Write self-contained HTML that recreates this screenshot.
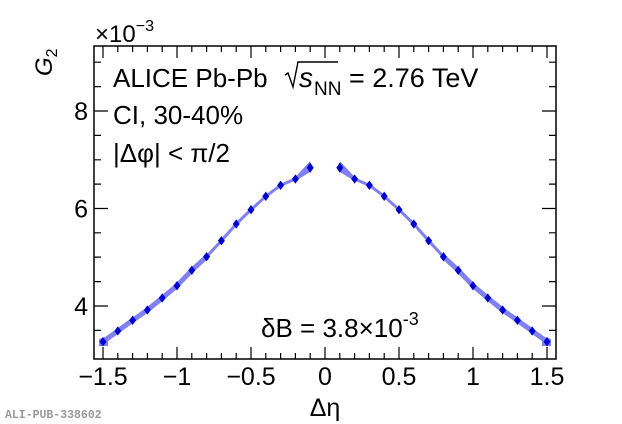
<!DOCTYPE html>
<html><head><meta charset="utf-8"><style>
html,body{margin:0;padding:0;background:#fff;}
svg{display:block;font-family:"Liberation Sans",sans-serif;}
</style></head><body>
<svg width="622" height="424" viewBox="0 0 622 424" xmlns="http://www.w3.org/2000/svg">
<rect width="622" height="424" fill="#fff"/>
<g fill="none" stroke="#8080f0" stroke-width="5" stroke-linejoin="round" stroke-linecap="butt">
<polyline points="103,341.7 117.8,331 132.6,320.3 147.4,310 162.2,298 177,285.7 191.8,270.3 206.6,256.7"/>
<polyline points="547,341.7 532.2,331 517.4,320.3 502.6,310 487.8,298 473,285.7 458.2,270.3 443.4,256.7"/>
</g>
<g fill="none" stroke="#8080f0" stroke-width="3" stroke-linejoin="round">
<polyline points="206.6,256.7 221.4,240.7 236.2,224 251,209.7 265.8,196.3 280.6,185.3 295.4,179 310.2,167.7"/>
<polyline points="443.4,256.7 428.6,240.7 413.8,224 399,209.7 384.2,196.3 369.4,185.3 354.6,179 339.8,167.7"/>
</g>
<polygon points="295.4,177 310.2,161 310.2,172 295.4,181" fill="#8080f0"/>
<polygon points="354.6,177 339.8,161 339.8,172 354.6,181" fill="#8080f0"/>
<polygon points="99,339 108,336 108,346 99,346" fill="#8080f0"/>
<polygon points="551,339 542,336 542,346 551,346" fill="#8080f0"/>
<g fill="#0000cc" stroke="#0000cc" stroke-width="0.8">
<path d="M103,337.7 l3,4 l-3,4 l-3,-4z M117.8,327 l3,4 l-3,4 l-3,-4z M132.6,316.3 l3,4 l-3,4 l-3,-4z M147.4,306 l3,4 l-3,4 l-3,-4z M162.2,294 l3,4 l-3,4 l-3,-4z M177,281.7 l3,4 l-3,4 l-3,-4z M191.8,266.3 l3,4 l-3,4 l-3,-4z M206.6,252.7 l3,4 l-3,4 l-3,-4z M221.4,236.7 l3,4 l-3,4 l-3,-4z M236.2,220 l3,4 l-3,4 l-3,-4z M251,205.7 l3,4 l-3,4 l-3,-4z M265.8,192.3 l3,4 l-3,4 l-3,-4z M280.6,181.3 l3,4 l-3,4 l-3,-4z M295.4,175 l3,4 l-3,4 l-3,-4z M310.2,163.2 l3,4.5 l-3,4.5 l-3,-4.5z"/>
<path d="M547,337.7 l3,4 l-3,4 l-3,-4z M532.2,327 l3,4 l-3,4 l-3,-4z M517.4,316.3 l3,4 l-3,4 l-3,-4z M502.6,306 l3,4 l-3,4 l-3,-4z M487.8,294 l3,4 l-3,4 l-3,-4z M473,281.7 l3,4 l-3,4 l-3,-4z M458.2,266.3 l3,4 l-3,4 l-3,-4z M443.4,252.7 l3,4 l-3,4 l-3,-4z M428.6,236.7 l3,4 l-3,4 l-3,-4z M413.8,220 l3,4 l-3,4 l-3,-4z M399,205.7 l3,4 l-3,4 l-3,-4z M384.2,192.3 l3,4 l-3,4 l-3,-4z M369.4,181.3 l3,4 l-3,4 l-3,-4z M354.6,175 l3,4 l-3,4 l-3,-4z M339.8,163.2 l3,4.5 l-3,4.5 l-3,-4.5z"/>
</g>
<rect x="94" y="46" width="462" height="313" fill="none" stroke="#000" stroke-width="1.5"/>
<g stroke="#000" stroke-width="1.2">
<path d="M103,359v-12 M177,359v-12 M251,359v-12 M325,359v-12 M399,359v-12 M473,359v-12 M547,359v-12
M103,46v12 M177,46v12 M251,46v12 M325,46v12 M399,46v12 M473,46v12 M547,46v12"/>
<path d="M117.8,359v-6 M132.6,359v-6 M147.4,359v-6 M162.2,359v-6 M191.8,359v-6 M206.6,359v-6 M221.4,359v-6 M236.2,359v-6 M265.8,359v-6 M280.6,359v-6 M295.4,359v-6 M310.2,359v-6 M339.8,359v-6 M354.6,359v-6 M369.4,359v-6 M384.2,359v-6 M413.8,359v-6 M428.6,359v-6 M443.4,359v-6 M458.2,359v-6 M487.8,359v-6 M502.6,359v-6 M517.4,359v-6 M532.2,359v-6
M117.8,46v6 M132.6,46v6 M147.4,46v6 M162.2,46v6 M191.8,46v6 M206.6,46v6 M221.4,46v6 M236.2,46v6 M265.8,46v6 M280.6,46v6 M295.4,46v6 M310.2,46v6 M339.8,46v6 M354.6,46v6 M369.4,46v6 M384.2,46v6 M413.8,46v6 M428.6,46v6 M443.4,46v6 M458.2,46v6 M487.8,46v6 M502.6,46v6 M517.4,46v6 M532.2,46v6"/>
<path d="M94,111h14 M94,208.5h14 M94,306h14 M556,111h-14 M556,208.5h-14 M556,306h-14"/>
<path d="M94,330.4h7 M94,281.6h7 M94,257.1h7 M94,232.8h7 M94,184.1h7 M94,159.8h7 M94,135.4h7 M94,86.6h7 M94,62.2h7
M556,330.4h-7 M556,281.6h-7 M556,257.1h-7 M556,232.8h-7 M556,184.1h-7 M556,159.8h-7 M556,135.4h-7 M556,86.6h-7 M556,62.2h-7"/>
</g>
<g font-size="25" fill="#000" text-anchor="middle">
<text x="103" y="385">−1.5</text>
<text x="177" y="385">−1</text>
<text x="251" y="385">−0.5</text>
<text x="325" y="385">0</text>
<text x="399" y="385">0.5</text>
<text x="473" y="385">1</text>
<text x="547" y="385">1.5</text>
</g>
<g font-size="25" fill="#000" text-anchor="end">
<text x="88" y="120">8</text>
<text x="88" y="217.5">6</text>
<text x="88" y="315">4</text>
</g>
<text x="95" y="42" font-size="24">×10<tspan font-size="16" dy="-11">−3</tspan></text>
<text transform="translate(52,76) rotate(-90)" font-size="24" font-style="italic">G<tspan font-size="16" font-style="normal" dy="5">2</tspan></text>
<text x="325" y="416" font-size="25" text-anchor="middle">Δη</text>
<g font-size="26" fill="#000">
<text x="113" y="87">ALICE Pb-Pb</text>
<path d="M285,75 l3,-2 l5,14 l5,-25 h40" fill="none" stroke="#000" stroke-width="1.4"/>
<text x="299" y="87" font-style="italic" font-size="28">s</text>
<text x="314" y="95" font-size="19">NN</text>
<text x="349" y="87" font-size="27">= 2.76 TeV</text>
<text x="113" y="124">CI, 30-40%</text>
<text x="113" y="162">|Δφ| &lt; π/2</text>
<text x="261" y="337">δB = 3.8×10<tspan font-size="18" dy="-12">-3</tspan></text>
</g>
<text x="5" y="418" font-family="Liberation Mono,monospace" font-weight="bold" font-size="11.5" fill="#999">ALI-PUB-338602</text>
</svg>
</body></html>
